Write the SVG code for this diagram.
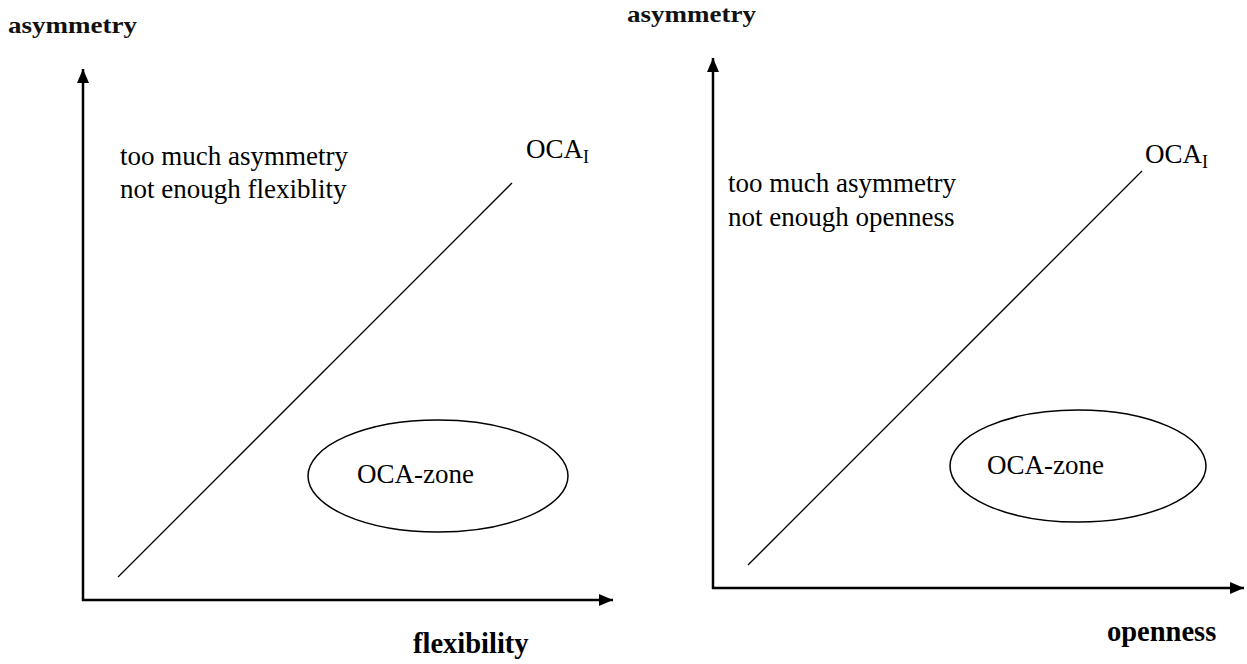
<svg xmlns="http://www.w3.org/2000/svg" width="1247" height="664" viewBox="0 0 1247 664">
<style>
.axis{stroke:#000;stroke-width:2.5;fill:none}
.diag{stroke:#000;stroke-width:1.3;fill:none}
.zone{stroke:#000;stroke-width:1.5;fill:#fff}
.t{font-family:"Liberation Serif","Times New Roman",serif;font-size:27px;fill:#000}
.sub{font-family:"Liberation Serif","Times New Roman",serif;font-size:18px;fill:#000}
.ax{font-family:"Liberation Serif","Times New Roman",serif;font-size:28.5px;font-weight:bold;fill:#000}
.ay{font-family:"Liberation Serif","Times New Roman",serif;font-size:24px;font-weight:bold;fill:#111}
</style>
<defs>
<marker id="ah" viewBox="0 0 14 12" refX="14" refY="6" markerWidth="14" markerHeight="12" markerUnits="userSpaceOnUse" orient="auto">
<path d="M0,0 L14,6 L0,12 Z" fill="#000"/>
</marker>
</defs>
<rect width="1247" height="664" fill="#fff"/>
<g id="connectors">
<line class="axis" x1="83" y1="601" x2="83" y2="69" marker-end="url(#ah)"/>
<line class="axis" x1="82" y1="600" x2="613" y2="600" marker-end="url(#ah)"/>
<line class="diag" x1="118" y1="577" x2="512" y2="183"/>
<line class="axis" x1="713" y1="589" x2="713" y2="58" marker-end="url(#ah)"/>
<line class="axis" x1="712" y1="588" x2="1244" y2="588" marker-end="url(#ah)"/>
<line class="diag" x1="748" y1="565" x2="1142" y2="171"/>
</g>
<g id="left-labels">
<text class="ay" x="8" y="33" textLength="129" lengthAdjust="spacingAndGlyphs">asymmetry</text>
<text class="ax" x="413" y="653">flexibility</text>
<text class="t" x="120" y="165">too much asymmetry</text>
<text class="t" x="120" y="198">not enough flexiblity</text>
<text class="t" x="526" y="158">OCA<tspan class="sub" dy="5">I</tspan></text>
</g>
<g id="left-zone">
<ellipse class="zone" cx="438" cy="476" rx="130" ry="56"/>
<text class="t" x="357" y="483">OCA-zone</text>
</g>
<g id="right-labels">
<text class="ay" x="627" y="22" textLength="129" lengthAdjust="spacingAndGlyphs">asymmetry</text>
<text class="ax" x="1107" y="641">openness</text>
<text class="t" x="728" y="192">too much asymmetry</text>
<text class="t" x="728" y="226">not enough openness</text>
<text class="t" x="1145" y="163">OCA<tspan class="sub" dy="5">I</tspan></text>
</g>
<g id="right-zone">
<ellipse class="zone" cx="1078" cy="466" rx="128" ry="56"/>
<text class="t" x="987" y="474">OCA-zone</text>
</g>
</svg>
